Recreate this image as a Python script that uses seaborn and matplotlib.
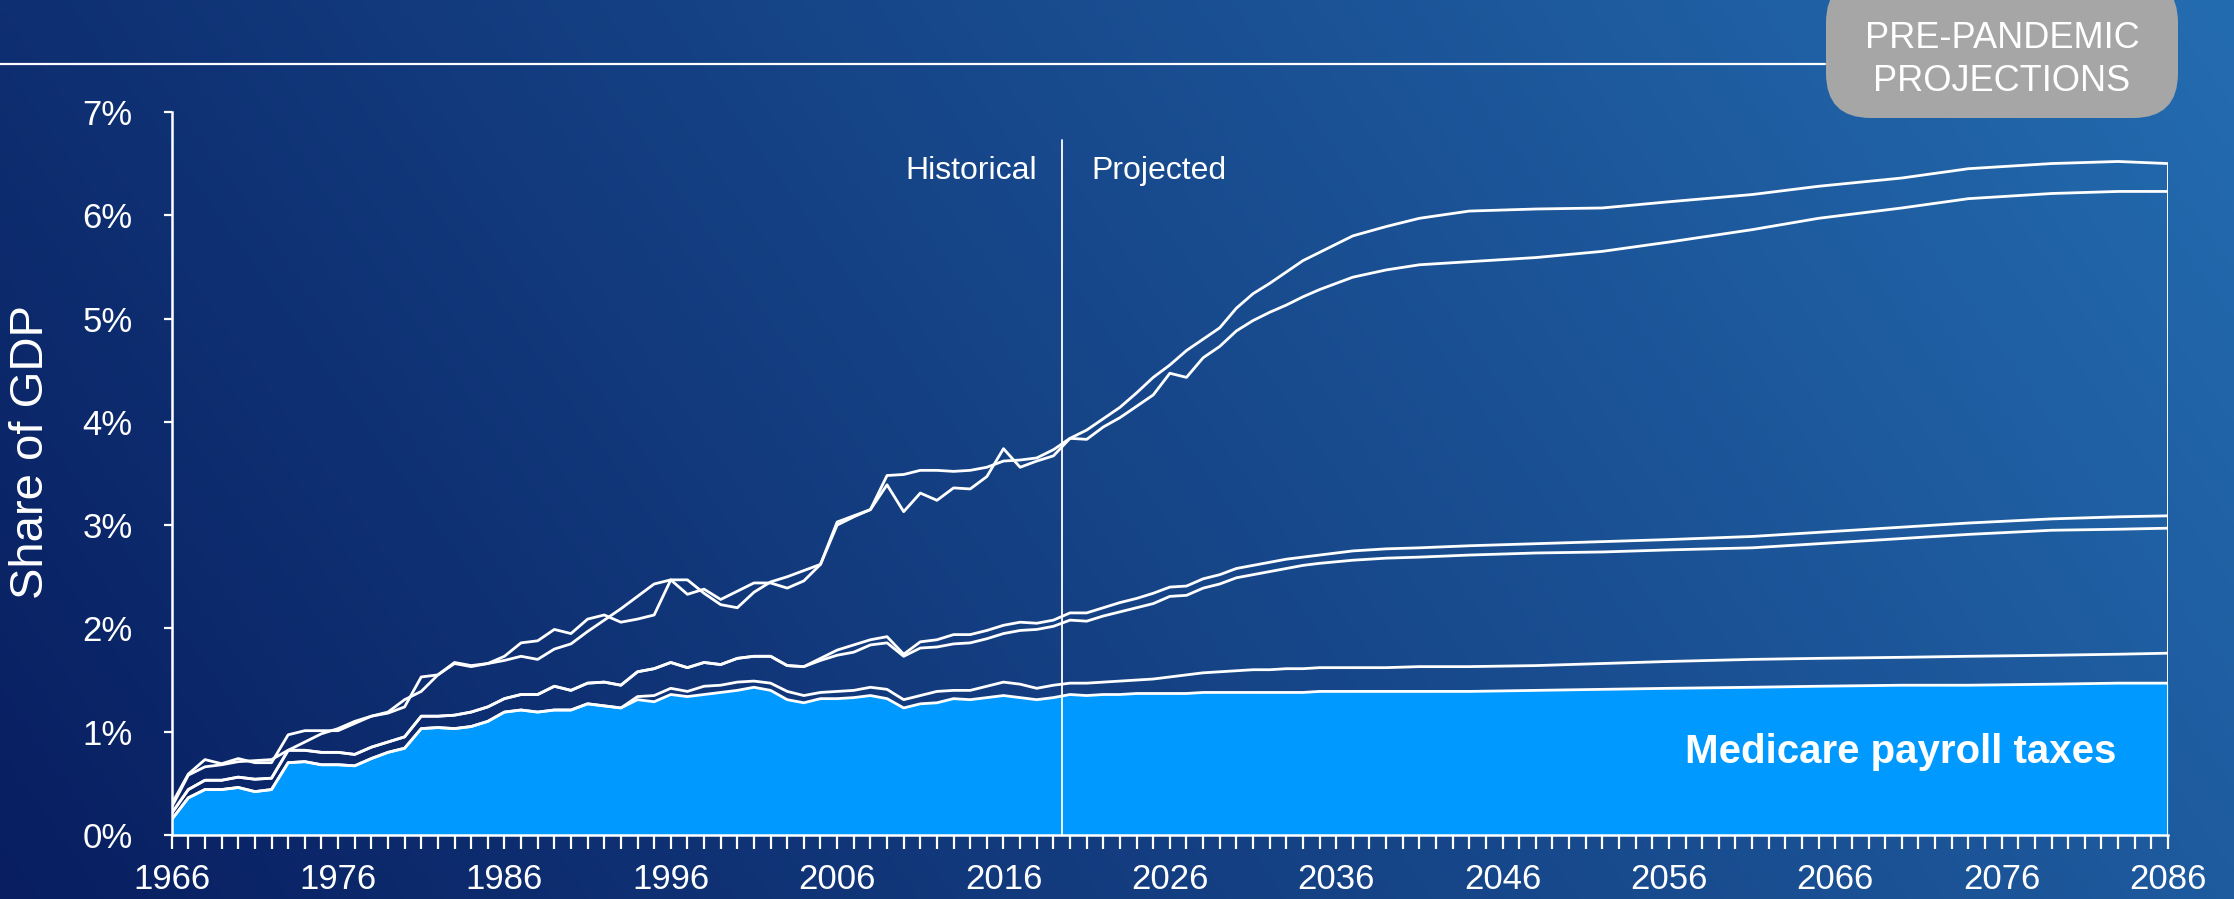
import numpy as np
import pandas as pd
import matplotlib
matplotlib.use("Agg")
import matplotlib.pyplot as plt
from matplotlib.patches import FancyBboxPatch
import seaborn as sns

# ---------------- data ----------------
hist_years = list(range(1966, 2020))
proj_years = list(range(2020, 2036)) + [2037, 2039, 2041, 2044, 2048, 2052, 2056,
                                        2061, 2065, 2070, 2074, 2079, 2083, 2086]
years = hist_years + proj_years

# Medicare payroll taxes (filled area top)
payroll = [0.15, 0.36, 0.44, 0.44, 0.46, 0.42, 0.44, 0.70, 0.71, 0.68, 0.68, 0.67, 0.74, 0.80, 0.84, 1.03, 1.04, 1.03,
           1.05, 1.10, 1.19, 1.21, 1.19, 1.21, 1.21, 1.27, 1.25, 1.23, 1.31, 1.29, 1.36, 1.34, 1.36, 1.38, 1.40, 1.43,
           1.40, 1.31, 1.28, 1.32, 1.32, 1.33, 1.35, 1.32, 1.23, 1.27, 1.28, 1.32, 1.31, 1.33, 1.35, 1.33, 1.31, 1.33,
           1.36, 1.35, 1.36, 1.36, 1.37, 1.37, 1.37, 1.37, 1.38, 1.38, 1.38, 1.38, 1.38, 1.38, 1.38, 1.39,
           1.39, 1.39, 1.39, 1.39, 1.40, 1.41, 1.42, 1.43, 1.44, 1.45, 1.45, 1.46, 1.47, 1.47]

line_b = [0.15, 0.36, 0.44, 0.44, 0.46, 0.42, 0.44, 0.70, 0.71, 0.68, 0.68, 0.67, 0.74, 0.80, 0.84, 1.03, 1.04, 1.03,
          1.05, 1.10, 1.19, 1.21, 1.19, 1.21, 1.21, 1.27, 1.25, 1.23, 1.34, 1.35, 1.42, 1.39, 1.44, 1.45, 1.48, 1.49,
          1.47, 1.39, 1.35, 1.38, 1.39, 1.40, 1.43, 1.41, 1.31, 1.35, 1.39, 1.40, 1.40, 1.44, 1.48, 1.46, 1.42, 1.45,
          1.47, 1.47, 1.48, 1.49, 1.50, 1.51, 1.53, 1.55, 1.57, 1.58, 1.59, 1.60, 1.60, 1.61, 1.61, 1.62,
          1.62, 1.62, 1.63, 1.63, 1.64, 1.66, 1.68, 1.70, 1.71, 1.72, 1.73, 1.74, 1.75, 1.76]

line_c = [0.21, 0.44, 0.53, 0.53, 0.56, 0.54, 0.55, 0.82, 0.82, 0.80, 0.80, 0.78, 0.85, 0.90, 0.95, 1.15, 1.15, 1.16,
          1.19, 1.24, 1.32, 1.36, 1.36, 1.44, 1.40, 1.47, 1.48, 1.45, 1.58, 1.61, 1.67, 1.62, 1.67, 1.65, 1.71, 1.73,
          1.73, 1.64, 1.63, 1.69, 1.74, 1.77, 1.84, 1.86, 1.73, 1.81, 1.82, 1.85, 1.86, 1.90, 1.95, 1.98, 1.99, 2.02,
          2.08, 2.07, 2.12, 2.16, 2.20, 2.24, 2.31, 2.32, 2.39, 2.43, 2.49, 2.52, 2.55, 2.58, 2.61, 2.63,
          2.66, 2.68, 2.69, 2.71, 2.73, 2.74, 2.76, 2.78, 2.82, 2.87, 2.91, 2.95, 2.96, 2.97]

line_d = [0.21, 0.44, 0.53, 0.53, 0.56, 0.54, 0.55, 0.82, 0.82, 0.80, 0.80, 0.78, 0.85, 0.90, 0.95, 1.15, 1.15, 1.16,
          1.19, 1.24, 1.32, 1.36, 1.36, 1.44, 1.40, 1.47, 1.48, 1.45, 1.58, 1.61, 1.67, 1.62, 1.67, 1.65, 1.71, 1.73,
          1.73, 1.64, 1.63, 1.71, 1.79, 1.84, 1.89, 1.92, 1.75, 1.87, 1.89, 1.94, 1.94, 1.98, 2.03, 2.06, 2.05, 2.08,
          2.15, 2.15, 2.20, 2.25, 2.29, 2.34, 2.40, 2.41, 2.48, 2.52, 2.58, 2.61, 2.64, 2.67, 2.69, 2.71,
          2.75, 2.77, 2.78, 2.80, 2.82, 2.84, 2.86, 2.89, 2.93, 2.98, 3.02, 3.06, 3.08, 3.09]

line_e = [0.30, 0.59, 0.73, 0.69, 0.74, 0.70, 0.70, 0.97, 1.01, 1.01, 1.01, 1.08, 1.15, 1.18, 1.24, 1.53, 1.55, 1.67,
          1.64, 1.66, 1.73, 1.86, 1.88, 1.99, 1.95, 2.09, 2.13, 2.06, 2.09, 2.13, 2.47, 2.33, 2.38, 2.28, 2.36, 2.44,
          2.44, 2.39, 2.46, 2.62, 3.00, 3.08, 3.15, 3.39, 3.13, 3.31, 3.24, 3.36, 3.35, 3.47, 3.74, 3.56, 3.62, 3.67,
          3.84, 3.83, 3.95, 4.04, 4.15, 4.26, 4.47, 4.43, 4.62, 4.73, 4.88, 4.98, 5.06, 5.13, 5.21, 5.28,
          5.40, 5.47, 5.52, 5.55, 5.59, 5.65, 5.74, 5.86, 5.97, 6.07, 6.16, 6.21, 6.23, 6.23]

line_f = [0.27, 0.58, 0.66, 0.68, 0.71, 0.72, 0.73, 0.82, 0.90, 0.98, 1.03, 1.10, 1.15, 1.19, 1.31, 1.39, 1.55, 1.66,
          1.63, 1.66, 1.69, 1.73, 1.70, 1.80, 1.85, 1.97, 2.08, 2.19, 2.31, 2.43, 2.47, 2.47, 2.34, 2.23, 2.20, 2.35,
          2.45, 2.50, 2.56, 2.62, 3.03, 3.09, 3.15, 3.48, 3.49, 3.53, 3.53, 3.52, 3.53, 3.56, 3.62, 3.63, 3.65, 3.73,
          3.84, 3.92, 4.03, 4.14, 4.28, 4.43, 4.55, 4.69, 4.80, 4.91, 5.10, 5.24, 5.34, 5.45, 5.56, 5.64,
          5.80, 5.89, 5.97, 6.04, 6.06, 6.07, 6.13, 6.20, 6.28, 6.36, 6.45, 6.50, 6.52, 6.50]

x_ticks = list(range(1966, 2087, 10))
y_ticks = [0, 1, 2, 3, 4, 5, 6, 7]
y_tick_labels = [f"{v}%" for v in y_ticks]
split_year = 2019.5

# ---------------- style ----------------
sns.set_style("ticks")
plt.rcParams["font.family"] = ["Liberation Sans", "DejaVu Sans"]

W, H = 2234, 899
fig = plt.figure(figsize=(W / 100, H / 100), dpi=100)

# background gradient
bg = fig.add_axes([0, 0, 1, 1], zorder=-10)
gx = np.linspace(0, 1, 400)[None, :]
gy = np.linspace(1, 0, 200)[:, None]
t = np.clip(0.78 * gx + 0.22 * gy, 0, 1)
c0 = np.array([8, 30, 96]) / 255.0
c1 = np.array([36, 108, 176]) / 255.0
img = c0[None, None, :] * (1 - t[..., None]) + c1[None, None, :] * t[..., None]
bg.imshow(img, aspect="auto", extent=[0, 1, 0, 1], interpolation="bilinear")
bg.set_xlim(0, 1)
bg.set_ylim(0, 1)
bg.axis("off")

# top rule and badge
bg.plot([0, 1825 / W], [1 - 64 / H, 1 - 64 / H], color="white", lw=1.6)
badge = FancyBboxPatch((1826 / W, 1 - 118 / H), (2178 - 1826) / W, 140 / H,
                       boxstyle="round,pad=0,rounding_size=0.02",
                       mutation_aspect=W / H,
                       fc="#a6a6a6", ec="none", transform=bg.transAxes)
bg.add_patch(badge)
bg.text(2002 / W, 1 - 60 / H, "PRE-PANDEMIC\nPROJECTIONS", ha="center", va="center",
        color="white", fontsize=26, linespacing=1.32)

# main axes
ax = fig.add_axes([171.7 / W, 1 - 835 / H, (2168 - 171.7) / W, (835 - 111.9) / H])
ax.set_facecolor("none")

df = pd.DataFrame({"year": years * 6,
                   "value": payroll + line_b + line_c + line_d + line_e + line_f,
                   "series": sum([[s] * len(years) for s in
                                  ["payroll", "b", "c", "d", "e", "f"]], [])})

ax.fill_between(years, 0, payroll, color="#0099ff", lw=0, zorder=1)
sns.lineplot(data=df, x="year", y="value", units="series", estimator=None,
             color="white", lw=2.0, ax=ax, zorder=3, legend=False)
ax.vlines(years[-1], 0, line_f[-1], color="white", lw=1.4, zorder=3)
ax.axvline(split_year, ymin=0, ymax=6.73 / 7, color="white", lw=1.3, zorder=4)

ax.text(2018.0, 6.43, "Historical", ha="right", va="center", color="white", fontsize=23)
ax.text(2021.3, 6.43, "Projected", ha="left", va="center", color="white", fontsize=23)
ax.text(2082.9, 0.80, "Medicare payroll taxes", ha="right", va="center", color="white",
        fontsize=29, fontweight="bold")

ax.set_xlim(1966, 2086)
ax.set_ylim(0, 7)
ax.set_xticks(x_ticks)
ax.set_xticks(range(1966, 2087), minor=True)
ax.set_yticks(y_ticks)
ax.set_yticklabels(y_tick_labels)
ax.set_xlabel("")
ax.set_ylabel("")
for s in ["top", "right"]:
    ax.spines[s].set_visible(False)
for s in ["left", "bottom"]:
    ax.spines[s].set_color("white")
    ax.spines[s].set_linewidth(1.8)
ax.tick_params(axis="x", which="both", direction="out", length=10, width=1.6,
               color="white", labelcolor="white", labelsize=25, pad=10)
ax.tick_params(axis="y", which="major", direction="out", length=6, width=1.6,
               color="white", labelcolor="white", labelsize=25, pad=22)
ax.tick_params(axis="y", which="minor", length=0)

fig.text(31 / W, 1 - 452 / H, "Share of GDP", rotation=90, ha="center", va="center",
         color="white", fontsize=34)

fig.savefig("out.png", dpi=100)
